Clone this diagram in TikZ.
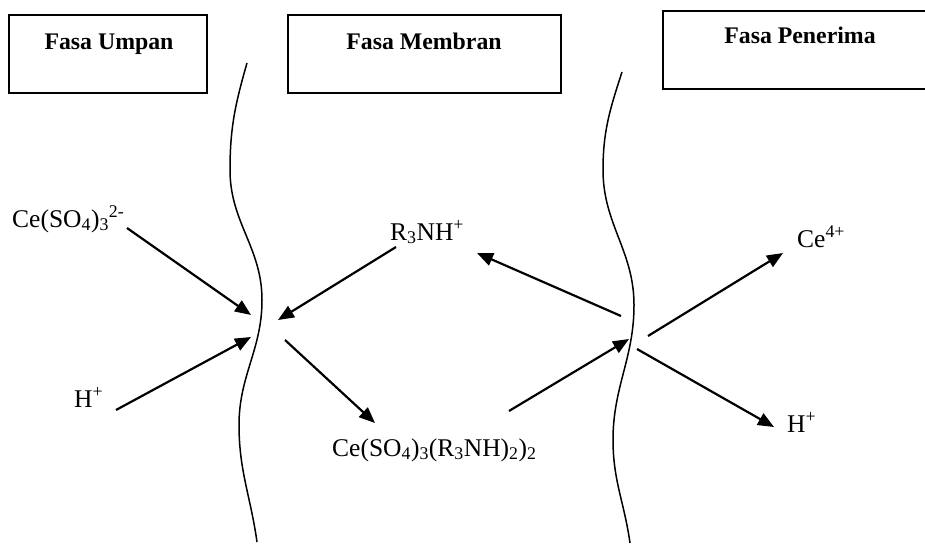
\documentclass[tikz,border=0pt]{standalone}
\usepackage{fontspec}
\setmainfont{Liberation Serif}
\usetikzlibrary{arrows.meta}
\begin{document}
\begin{tikzpicture}[x=1pt,y=-1pt,
 phasebox/.style={draw,line width=1.8pt},
 title/.style={font=\fontsize{23.8}{28}\selectfont\bfseries,inner sep=0,anchor=base},
 chem/.style={font=\fontsize{25.5}{30}\selectfont,inner sep=0,anchor=base west},
 flow/.style={line width=2.2pt,-{Triangle[length=16pt,width=13pt]}},
 membrane/.style={line width=1.5pt}]
\useasboundingbox (0,0) rectangle (925,546);
\clip (0,0) rectangle (925,546);
% phase boxes
\draw[phasebox] (9,15) rectangle (207,93);
\draw[phasebox] (288,15) rectangle (561,93);
\draw[phasebox] (663,11) rectangle (940,89);
\node[title] (tU) at (109,49) {Fasa Umpan};
\node[title] (tM) at (424,49) {Fasa Membran};
\node[title] (tP) at (800,43) {Fasa Penerima};
% membranes
\draw[membrane] (247,63) to[out=-106,in=90] (230,170) to[out=-90,in=90] (262,300)
  to[out=-90,in=90] (239,425) to[out=-90,in=98] (257,542);
\draw[membrane] (622,72) to[out=-108,in=90] (603,170) to[out=-90,in=90] (634,305)
  to[out=-90,in=90] (613,440) to[out=-90,in=98] (630,543);
% species
\node[chem] (ceso) at (12,227) {Ce(SO\textsubscript{4})\textsubscript{3}\textsuperscript{2-}};
\node[chem] (hL) at (74,407) {H\textsuperscript{+}};
\node[chem] (rnh) at (390,240) {R\textsubscript{3}NH\textsuperscript{+}};
\node[chem] (cplx) at (332,456) {Ce(SO\textsubscript{4})\textsubscript{3}(R\textsubscript{3}NH)\textsubscript{2})\textsubscript{2}};
\node[chem] (ce4) at (797,247) {Ce\textsuperscript{4+}};
\node[chem] (hR) at (787,432) {H\textsuperscript{+}};
% arrow ends
\coordinate (a1s) at (127,228); \coordinate (a1e) at (251,315);
\coordinate (a2s) at (116,410); \coordinate (a2e) at (251,337);
\coordinate (a3s) at (396,247); \coordinate (a3e) at (278,320);
\coordinate (a4s) at (285,340); \coordinate (a4e) at (375,423);
\coordinate (a5s) at (621,316); \coordinate (a5e) at (477,253);
\coordinate (a6s) at (509,411); \coordinate (a6e) at (629,339);
\coordinate (a7s) at (648,336); \coordinate (a7e) at (783,253);
\coordinate (a8s) at (637,349); \coordinate (a8e) at (774,427);
\draw[flow] (a1s) -- (a1e);
\draw[flow] (a2s) -- (a2e);
\draw[flow] (a3s) -- (a3e);
\draw[flow] (a4s) -- (a4e);
\draw[flow] (a5s) -- (a5e);
\draw[flow] (a6s) -- (a6e);
\draw[flow] (a7s) -- (a7e);
\draw[flow] (a8s) -- (a8e);
\end{tikzpicture}
\end{document}
